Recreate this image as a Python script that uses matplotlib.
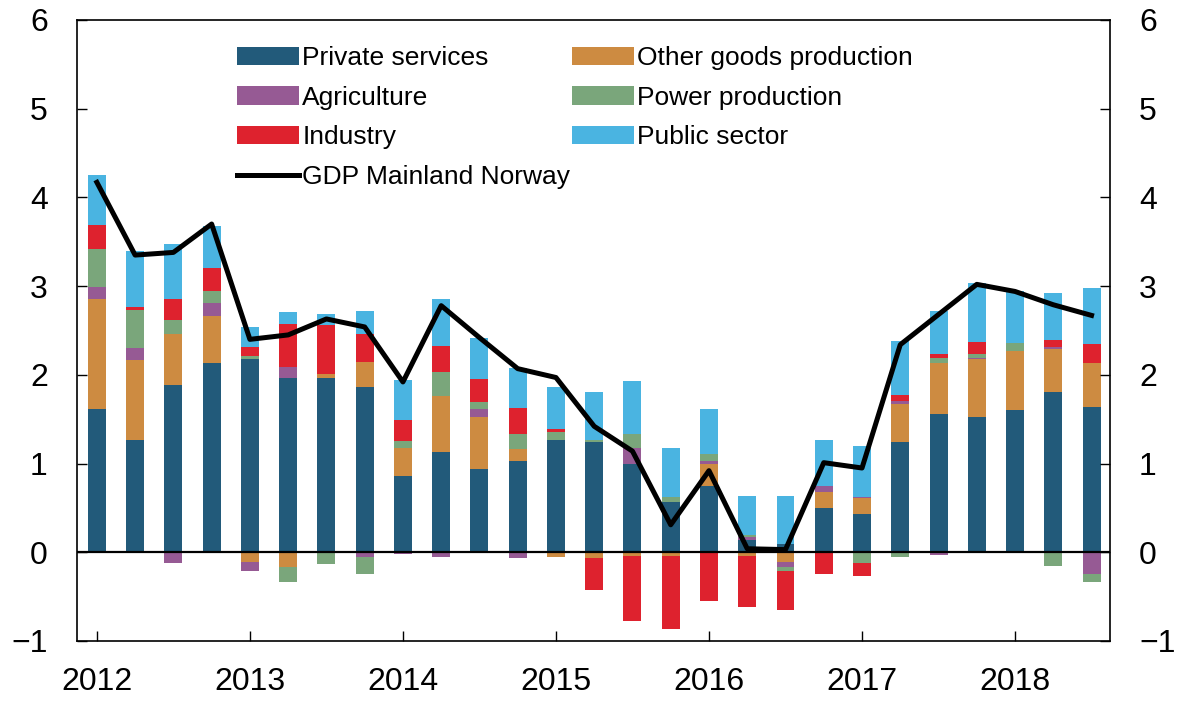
import matplotlib
matplotlib.use("Agg")
import matplotlib.pyplot as plt
import numpy as np

plt.rcParams['font.family'] = ['Liberation Sans', 'DejaVu Sans']

# quarterly contributions, 2012Q1 - 2018Q3
quarters = np.arange(27)
years = ['2012', '2013', '2014', '2015', '2016', '2017', '2018']
private = [1.61, 1.27, 1.88, 2.13, 2.18, 1.97, 1.96, 1.86, 0.86, 1.13, 0.94, 1.03, 1.26, 1.24,
           1.00, 0.57, 0.75, 0.14, 0.09, 0.50, 0.43, 1.24, 1.56, 1.52, 1.60, 1.81, 1.64]
other_goods = [1.25, 0.90, 0.58, 0.53, -0.11, -0.17, 0.05, 0.29, 0.32, 0.63, 0.58, 0.13, -0.05, -0.07,
               -0.04, -0.04, 0.25, -0.04, -0.11, 0.18, 0.18, 0.43, 0.57, 0.66, 0.67, 0.48, 0.49]
agriculture = [0.13, 0.13, -0.12, 0.15, -0.10, 0.12, 0.0, -0.05, -0.02, -0.05, 0.10, -0.07, 0.0, 0.0,
               0.17, 0.0, 0.03, 0.03, -0.06, 0.07, 0.01, 0.03, -0.03, 0.01, 0.0, 0.02, -0.24]
power = [0.43, 0.43, 0.16, 0.14, 0.03, -0.17, -0.13, -0.19, 0.07, 0.27, 0.07, 0.17, 0.10, 0.03,
         0.16, 0.05, 0.08, 0.03, -0.04, 0.0, -0.12, -0.05, 0.06, 0.05, 0.09, -0.15, -0.09]
industry = [0.27, 0.03, 0.23, 0.25, 0.10, 0.48, 0.55, 0.31, 0.24, 0.29, 0.26, 0.30, 0.03, -0.36,
            -0.73, -0.83, -0.55, -0.58, -0.44, -0.25, -0.15, 0.07, 0.05, 0.13, 0.0, 0.08, 0.22]
public = [0.56, 0.64, 0.62, 0.48, 0.23, 0.14, 0.13, 0.26, 0.45, 0.54, 0.46, 0.45, 0.47, 0.54,
          0.60, 0.56, 0.51, 0.43, 0.54, 0.52, 0.58, 0.61, 0.48, 0.66, 0.59, 0.53, 0.63]
gdp = [4.17, 3.35, 3.38, 3.70, 2.40, 2.45, 2.63, 2.54, 1.92, 2.78, 2.42, 2.07, 1.97, 1.42,
       1.14, 0.31, 0.92, 0.04, 0.03, 1.01, 0.95, 2.34, 2.68, 3.02, 2.94, 2.79, 2.67]

series = [
    ('Private services', private, '#225A7A'),
    ('Other goods production', other_goods, '#CD8B41'),
    ('Agriculture', agriculture, '#965A94'),
    ('Power production', power, '#7AA67B'),
    ('Industry', industry, '#DE222E'),
    ('Public sector', public, '#4AB4E1'),
]

fig = plt.figure(figsize=(11.77, 7.01), dpi=100)
ax = fig.add_axes([0.0654, 0.0856, 0.8776, 0.8859])

pos_bottom = np.zeros(len(quarters))
neg_bottom = np.zeros(len(quarters))
handles = {}
for name, vals, col in series:
    v = np.array(vals)
    pos = np.where(v > 0, v, 0)
    neg = np.where(v < 0, v, 0)
    b = ax.bar(quarters, pos, 0.47, bottom=pos_bottom, color=col, label=name)
    ax.bar(quarters, neg, 0.47, bottom=neg_bottom, color=col)
    pos_bottom += pos
    neg_bottom += neg
    handles[name] = b

ax.axhline(0, color='black', lw=1.6, zorder=3)
line, = ax.plot(quarters, gdp, color='black', lw=3.6, zorder=4, label='GDP Mainland Norway')

ax.set_xlim(-0.52, 26.48)
ax.set_ylim(-1, 6)
ax.set_yticks(range(-1, 7))
ax.set_xticks(quarters[::4])
ax.set_xticklabels(years)
ax.tick_params(axis='y', direction='in', length=7, width=1, right=True, labelright=True,
               labelsize=23, pad=21)
ax.tick_params(axis='x', direction='in', length=7, width=1, labelsize=23, pad=19)
for s in ax.spines.values():
    s.set_linewidth(1.2)

order = ['Private services', 'Agriculture', 'Industry']
h = [handles[n] for n in order] + [line] + [handles[n] for n in
     ['Other goods production', 'Power production', 'Public sector']]
l = order + ['GDP Mainland Norway', 'Other goods production', 'Power production', 'Public sector']
ax.legend(h, l, ncol=2, loc='upper left', bbox_to_anchor=(0.155, 0.958), frameon=False,
          fontsize=19, handlelength=2.35, handleheight=0.7, handletextpad=0.12,
          labelspacing=0.59, columnspacing=0.05, borderpad=0, borderaxespad=0)

fig.savefig('out.png', dpi=100)
